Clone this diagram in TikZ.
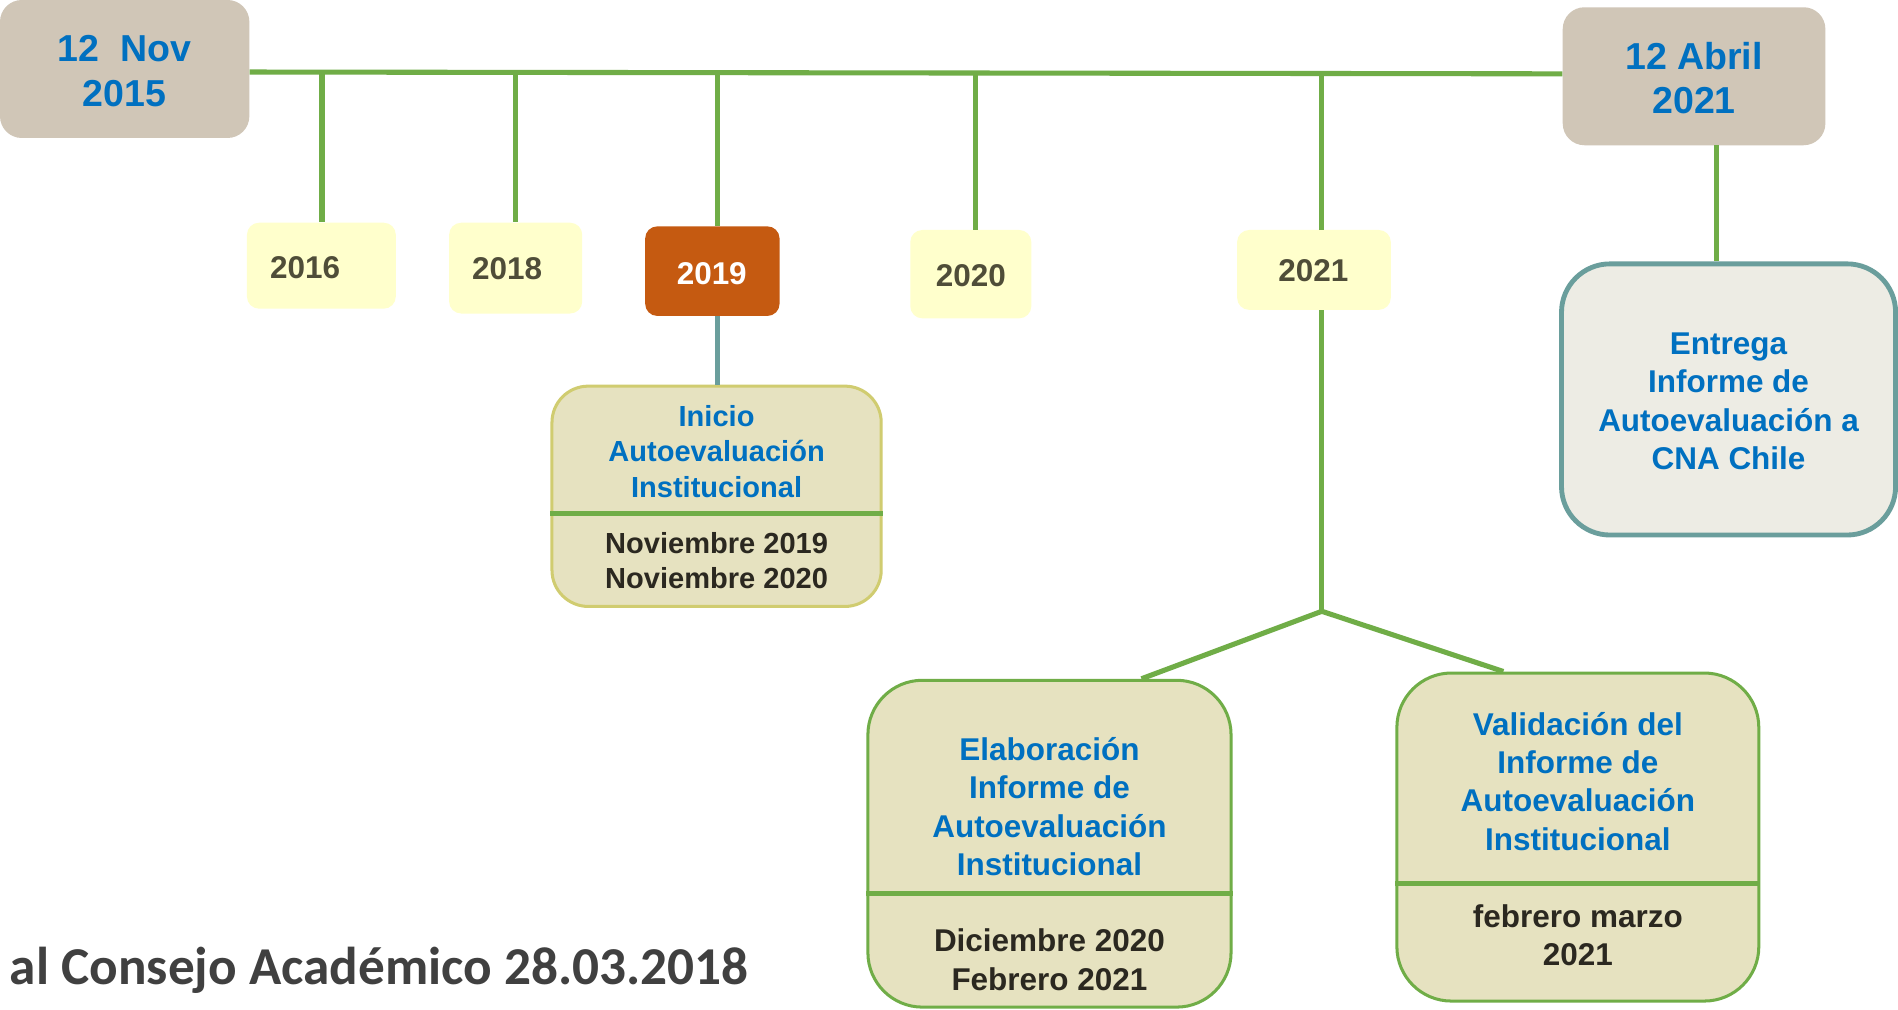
\documentclass[tikz,border=0pt]{standalone}
\usepackage{fontspec}
\setmainfont{Liberation Sans}
\newfontfamily\calib{Carlito}
\definecolor{tblue}{HTML}{0070C0}
\definecolor{tan}{HTML}{D0C6B7}
\definecolor{ylw}{HTML}{FFFFCC}
\definecolor{yrtxt}{HTML}{4F4D38}
\definecolor{rust}{HTML}{C55A11}
\definecolor{gline}{HTML}{70AD47}
\definecolor{teal}{HTML}{6A9E9C}
\definecolor{beige}{HTML}{E6E2C0}
\definecolor{olivebd}{HTML}{D0CC70}
\definecolor{pale}{HTML}{EDECE4}
\definecolor{dtxt}{HTML}{2B2820}
\definecolor{foot}{HTML}{404040}
\tikzset{
  glink/.style={draw=gline, line width=4.2pt},
  tlink/.style={draw=teal, line width=4.2pt},
  datebox/.style={fill=tan, rounded corners=18pt, inner sep=0pt},
  datetxt/.style={text=tblue, font=\bfseries\fontsize{31}{37}\selectfont, align=center, inner sep=0pt},
  yearbox/.style={fill=ylw, rounded corners=10pt, inner sep=0pt},
  yeartxt/.style={text=yrtxt, font=\bfseries\fontsize{26}{30}\selectfont, inner sep=0pt},
  phasebox/.style={fill=beige, inner sep=0pt},
  ttl/.style={text=tblue, font=\bfseries\fontsize{26}{31.7}\selectfont, align=center, inner sep=0pt},
  dts/.style={text=dtxt, font=\bfseries\fontsize{26}{31.7}\selectfont, align=center, inner sep=0pt},
}
\begin{document}
\begin{tikzpicture}[x=1pt,y=-1pt]
\fill[white] (0,0) rectangle (1568,834);
\useasboundingbox (0,0) rectangle (1568,834);

% top date boxes
\node[datebox, minimum width=206pt, minimum height=114pt] (nov) at (103,57) {};
\node[datetxt] (novT) at (103,59) {12\ \ Nov\\2015};
\node[datebox, minimum width=217pt, minimum height=114pt] (abril) at (1399.5,63) {};
\node[datetxt] (abrilT) at (1399.5,64.5) {12 Abril\\2021};

% main line
\draw[glink] ([yshift=-2.5pt]nov.east) -- ([yshift=2pt]abril.west);

% year boxes
\node[yearbox, minimum width=123pt, minimum height=71pt] (y2016) at (265.5,219.5) {};
\node[yeartxt] (t2016) at (252,221) {2016};
\node[yearbox, minimum width=110pt, minimum height=75pt] (y2018) at (426,221.5) {};
\node[yeartxt] (t2018) at (419,222) {2018};
\node[yearbox, fill=rust, minimum width=111pt, minimum height=74pt] (y2019) at (588.5,224) {};
\node[yeartxt, text=white] (t2019) at (588,226) {2019};
\node[yearbox, minimum width=100pt, minimum height=73pt] (y2020) at (802,226.5) {};
\node[yeartxt] (t2020) at (802,228) {2020};
\node[yearbox, minimum width=127pt, minimum height=66pt] (y2021) at (1085.5,223) {};
\node[yeartxt] (t2021) at (1085,224) {2021};

% drops from main line
\coordinate (d16) at (266,60);
\coordinate (d18) at (426,60);
\coordinate (d19) at (593,60);
\coordinate (d20) at (806,60);
\coordinate (d21) at (1092,63);
\draw[glink] (d16) -- (d16 |- y2016.north);
\draw[glink] (d18) -- (d18 |- y2018.north);
\draw[glink] (d19) -- (d19 |- y2019.north);
\draw[glink] (d20) -- (d20 |- y2020.north);
\draw[glink] (d21) -- (d21 |- y2021.north);

% Inicio box
\node[phasebox, draw=olivebd, line width=2.5pt, rounded corners=30pt, minimum width=272pt, minimum height=182pt] (inicio) at (592,410) {};
\draw[glink] (inicio.west |- 0,424) -- (inicio.east |- 0,424);
\node[ttl, font=\bfseries\fontsize{24}{29.5}\selectfont] (inicioT) at (592,373) {Inicio\\Autoevaluación\\Institucional};
\node[dts, font=\bfseries\fontsize{24}{29}\selectfont] (inicioD) at (592,463.5) {Noviembre 2019\\Noviembre 2020};
\draw[tlink] (d19 |- y2019.south) -- (d19 |- inicio.north);

% Entrega box
\node[fill=pale, draw=teal, line width=4pt, rounded corners=40pt, minimum width=276pt, minimum height=224pt, inner sep=0pt] (entrega) at (1428,330) {};
\node[ttl, font=\bfseries\fontsize{26}{31.7}\selectfont] (entregaT) at (1428,331.5) {Entrega\\Informe de\\Autoevaluación a\\CNA Chile};
\coordinate (dab) at (1418,0);
\draw[glink] (dab |- abril.south) -- (dab |- entrega.north);

% branch from 2021
\coordinate (br) at (1092,505);
\draw[glink] (d21 |- y2021.south) -- (br);

% Elaboracion box
\node[phasebox, draw=gline, line width=2.5pt, rounded corners=45pt, minimum width=300pt, minimum height=270pt] (elab) at (867,697) {};
\draw[glink] (elab.west |- 0,738) -- (elab.east |- 0,738);
\node[ttl] (elabT) at (867,666.5) {Elaboración\\Informe de\\Autoevaluación\\Institucional};
\node[dts] (elabD) at (867,793) {Diciembre 2020\\Febrero 2021};

% Validacion box
\node[phasebox, draw=gline, line width=2.5pt, rounded corners=45pt, minimum width=299pt, minimum height=271pt] (valid) at (1303.5,691.5) {};
\draw[glink] (valid.west |- 0,730) -- (valid.east |- 0,730);
\node[ttl] (validT) at (1303.5,645.5) {Validación del\\Informe de\\Autoevaluación\\Institucional};
\node[dts] (validD) at (1303.5,772.5) {febrero marzo\\2021};

\draw[glink] (br) -- ([xshift=76pt]elab.north);
\draw[glink] (br) -- ([xshift=-61.5pt]valid.north);

% footer text
\node[anchor=base west, inner sep=0pt, text=foot, font=\calib\bfseries\fontsize{44}{50}\selectfont] (foot) at (8,813) {al Consejo Académico 28.03.2018};
\end{tikzpicture}
\end{document}
